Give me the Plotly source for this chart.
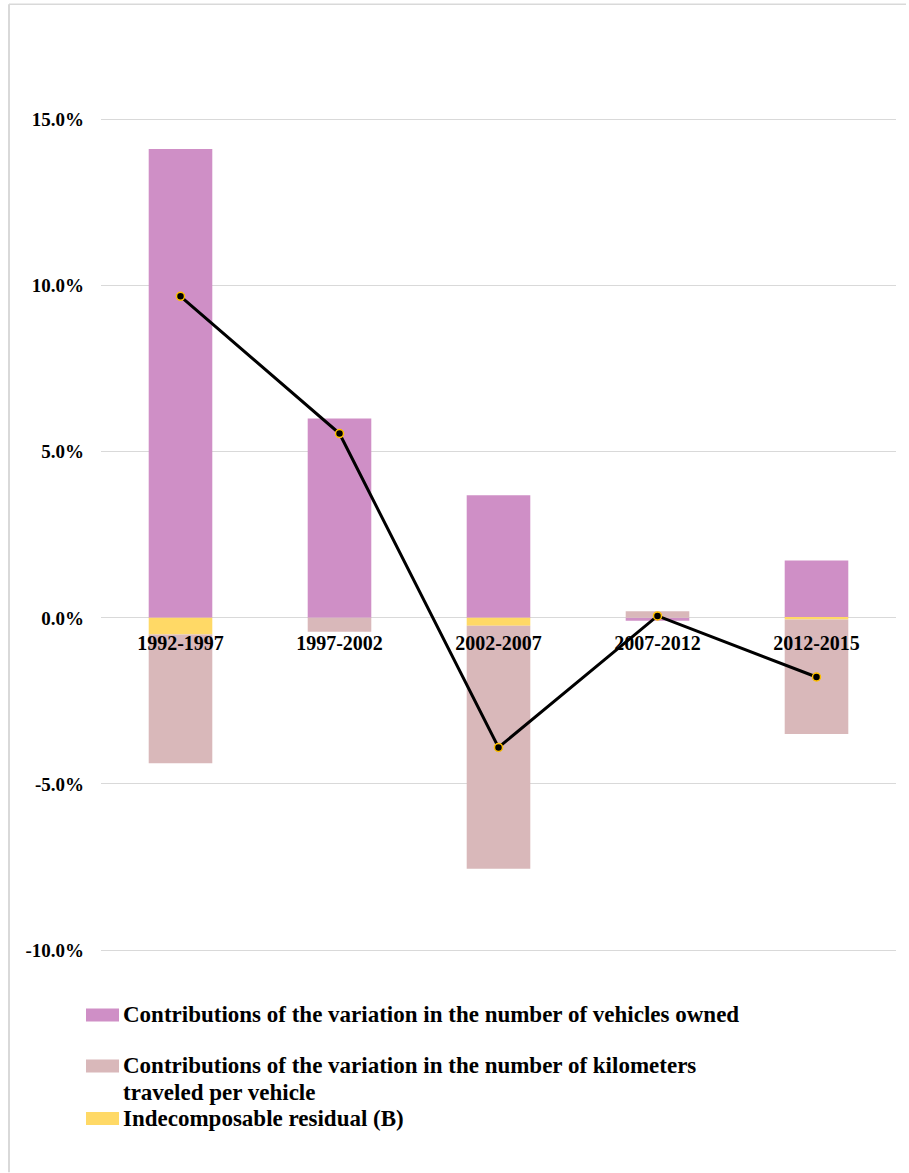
import plotly.graph_objects as go

categories = ["1992-1997", "1997-2002", "2002-2007", "2007-2012", "2012-2015"]
vehicles_owned = [14.12, 6.00, 3.69, -0.09, 1.73]
km_per_vehicle = [-3.88, -0.42, -7.31, 0.20, -3.45]
residual = [-0.50, 0.0, -0.24, 0.0, -0.05]
total_line = [9.68, 5.55, -3.90, 0.06, -1.78]

series_names = [
    "Contributions of the variation in the number of vehicles owned",
    "Contributions of the variation in the number of kilometers",
    "Indecomposable residual (B)",
]
series_name_2_cont = "traveled per vehicle"
colors = ["#CF8FC6", "#D9B8BA", "#FFD966"]

y_ticks = [-10, -5, 0, 5, 10, 15]
y_ticktext = ["-10.0%", "-5.0%", "0.0%", "5.0%", "10.0%", "15.0%"]

W, H = 909, 1173
L, R = 101, 896
Y15, Y10N = 119.5, 950.5          # pixel rows of 15% and -10% gridlines
YMIN, YMAX = -10.15, 15.05
ppu = (Y10N - Y15) / 25.0
T = Y15 - (YMAX - 15) * ppu
B = Y10N + (-10 - YMIN) * ppu

FONT = "Liberation Serif"

fig = go.Figure()
fig.add_trace(go.Bar(x=categories, y=vehicles_owned, name=series_names[0],
                     marker=dict(color=colors[0], line=dict(width=0)), showlegend=False))
fig.add_trace(go.Bar(x=categories, y=residual, name=series_names[2],
                     marker=dict(color=colors[2], line=dict(width=0)), showlegend=False))
fig.add_trace(go.Bar(x=categories, y=km_per_vehicle, name=series_names[1] + " " + series_name_2_cont,
                     marker=dict(color=colors[1], line=dict(width=0)), showlegend=False))
fig.add_trace(go.Scatter(x=categories, y=total_line, mode="lines+markers",
                         line=dict(color="black", width=3),
                         marker=dict(color="black", size=8, line=dict(color="#FFC000", width=1.5)),
                         showlegend=False))

def px_x(p):
    return (p - L) / (R - L)

def px_y(p):
    return (B - p) / (B - T)

shapes = []
annotations = []
LEG_FONT = dict(family=FONT, size=23, color="black", weight="bold")
legend_rows = [(1015.5, 0), (1066.5, 1), (1119, 2)]
for cy, idx in legend_rows:
    shapes.append(dict(type="rect", xref="paper", yref="paper",
                       x0=px_x(86), x1=px_x(119), y0=px_y(cy - 6.5), y1=px_y(cy + 6.5),
                       fillcolor=colors[idx], line=dict(width=0)))
    annotations.append(dict(xref="paper", yref="paper", x=px_x(121), y=px_y(cy),
                            xanchor="left", yanchor="middle", align="left", showarrow=False,
                            text=series_names[idx], font=LEG_FONT))
annotations.append(dict(xref="paper", yref="paper", x=px_x(121), y=px_y(1093.5),
                        xanchor="left", yanchor="middle", align="left", showarrow=False,
                        text=series_name_2_cont, font=LEG_FONT))

# frame lines (top and left)
shapes.append(dict(type="line", xref="paper", yref="paper", x0=px_x(9), x1=px_x(906),
                   y0=px_y(4), y1=px_y(4), line=dict(color="#D9D9D9", width=1.5)))
shapes.append(dict(type="line", xref="paper", yref="paper", x0=px_x(9), x1=px_x(9),
                   y0=px_y(4), y1=px_y(H), line=dict(color="#D9D9D9", width=2)))

fig.update_layout(
    width=W, height=H,
    margin=dict(l=L, r=W - R, t=T, b=H - B, autoexpand=False),
    barmode="relative",
    bargap=0.6,
    plot_bgcolor="white", paper_bgcolor="white",
    font=dict(family=FONT, size=19, color="black"),
    shapes=shapes,
    annotations=annotations,
    showlegend=False,
)
fig.update_yaxes(range=[YMIN, YMAX], tickvals=y_ticks, ticktext=y_ticktext,
                 showgrid=True, gridcolor="#D9D9D9", gridwidth=1, zeroline=False,
                 showline=False, ticks="", ticklabelstandoff=16,
                 tickfont=dict(family=FONT, size=19, color="black", weight="bold"))
fig.update_xaxes(anchor="free", position=(0 - YMIN) / (YMAX - YMIN),
                 showgrid=False, zeroline=False, showline=False, ticks="",
                 ticklabelstandoff=11,
                 tickfont=dict(family=FONT, size=20, color="black", weight="bold"))

fig.write_html("out.html")
